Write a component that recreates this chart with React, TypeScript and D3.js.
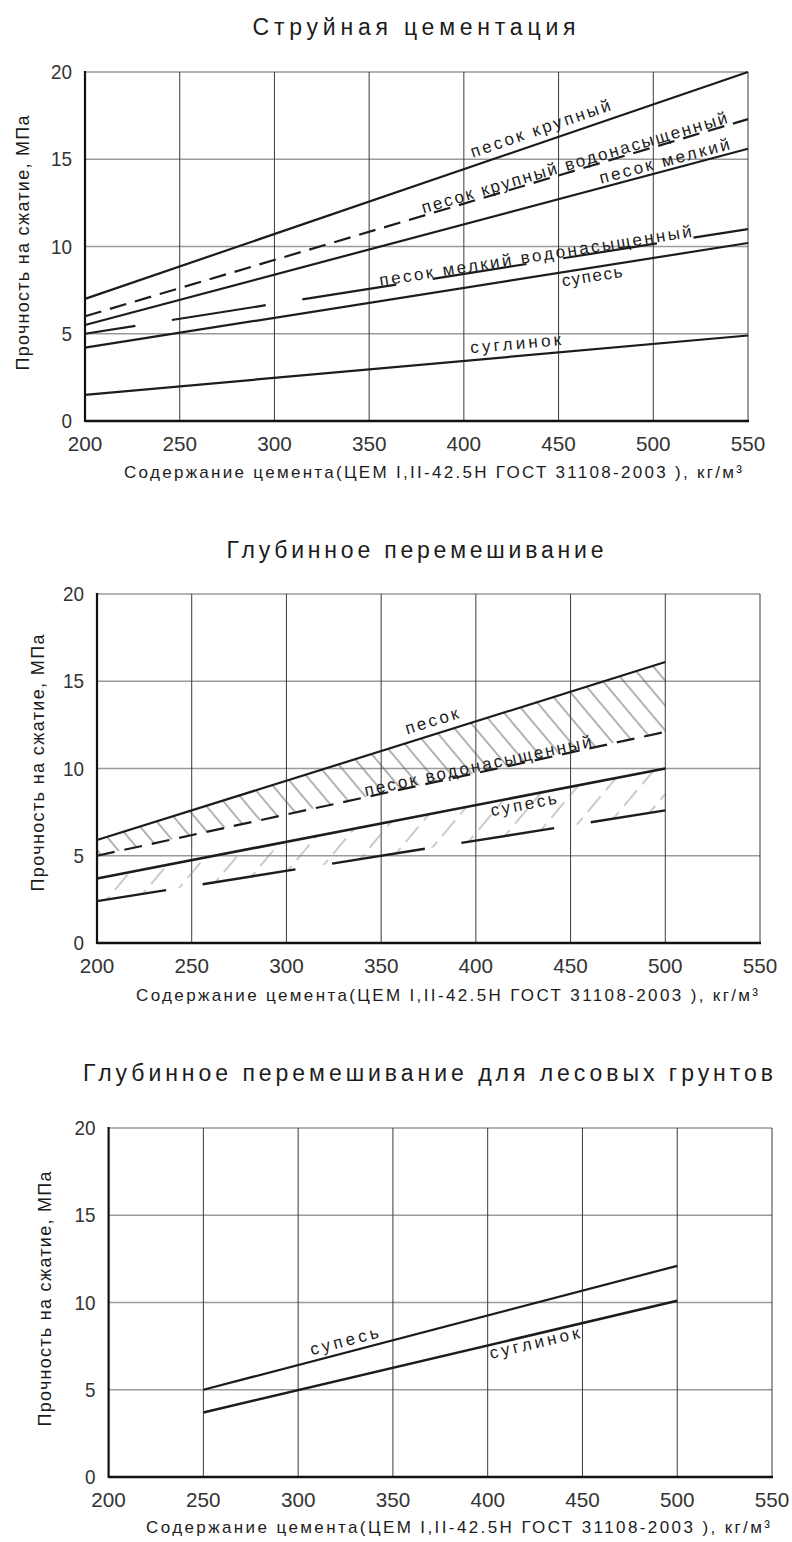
import React from 'react';
import * as d3 from 'd3';

// ---------- shared axis data ----------
const xTicks = [200, 250, 300, 350, 400, 450, 500, 550];
const yTicks = [0, 5, 10, 15, 20];
const xDomain = [200, 550];
const yDomain = [0, 20];
const xAxisTitle = 'Содержание цемента(ЦЕМ I,II-42.5Н ГОСТ 31108-2003 ), кг/м³';
const yAxisTitle = 'Прочность на сжатие, МПа';

// ---------- chart 1: jet grouting ----------
const jetTitle = 'Струйная цементация';
const jetX = [200, 550];
const jetSandCoarse = [7.0, 20.0];
const jetSandCoarseSat = [6.0, 17.3];
const jetSandFine = [5.5, 15.6];
const jetSandFineSat = [5.0, 11.0];
const jetSandyLoam = [4.2, 10.2];
const jetLoam = [1.5, 4.9];

// ---------- chart 2: deep mixing ----------
const deepTitle = 'Глубинное перемешивание';
const deepX = [200, 500];
const deepSand = [5.9, 16.1];
const deepSandSat = [5.0, 12.1];
const deepSandyLoam = [3.7, 10.0];
const deepSandyLoamLow = [2.4, 7.6];

// ---------- chart 3: deep mixing, loess ----------
const loessTitle = 'Глубинное перемешивание для лесовых грунтов';
const loessX = [250, 500];
const loessSandyLoam = [5.0, 12.1];
const loessLoam = [3.7, 10.1];

const FONT = '"Liberation Sans", Arial, sans-serif';
const INK = '#1c1c1c';

type Series = { x: number[]; y: number[]; dash?: string; offset?: number; width?: number };
type Label = { s: number; at: number; d: number; text: string; len: number };
type Hatch = { hi: number; lo: number; pat: string };
type Layout = {
  left: number; right: number; top: number; bottom: number;
  titleX: number; titleY: number; titleLen: number;
  axX: number; axY: number; axLen: number;
  ayX: number; ayY: number; ayLen: number;
};

function Panel({ id, L, title, series, labels, hatches }: {
  id: string; L: Layout; title: string; series: Series[]; labels: Label[]; hatches: Hatch[];
}) {
  const x = d3.scaleLinear().domain(xDomain).range([L.left, L.right]);
  const y = d3.scaleLinear().domain(yDomain).range([L.bottom, L.top]);
  const line = d3.line<[number, number]>().x(d => x(d[0])).y(d => y(d[1]));
  const area = d3.area<{ x: number; hi: number; lo: number }>()
    .x(d => x(d.x)).y0(d => y(d.lo)).y1(d => y(d.hi));

  const pts = (s: Series) => s.x.map((v, i) => [v, s.y[i]] as [number, number]);

  return (
    <g>
      <defs>
        <pattern id={`${id}-back`} patternUnits="userSpaceOnUse" width={16} height={40}
          patternTransform="rotate(-40)">
          <line x1={8} y1={0} x2={8} y2={40} stroke="#555" strokeWidth={0.9} />
        </pattern>
        <pattern id={`${id}-fwd`} patternUnits="userSpaceOnUse" width={24} height={28}
          patternTransform="rotate(40)">
          <line x1={12} y1={0} x2={12} y2={28} stroke="#8a8a8a" strokeWidth={0.9}
            strokeDasharray="20 8" />
        </pattern>
      </defs>

      {/* title */}
      <text x={L.titleX} y={L.titleY} textAnchor="middle" fontFamily={FONT} fontSize={23}
        fill={INK} textLength={L.titleLen} lengthAdjust="spacing">{title}</text>

      {/* horizontal grid */}
      {yTicks.filter(t => t > 0).map(t => (
        <line key={`h${t}`} x1={L.left} x2={L.right} y1={y(t)} y2={y(t)}
          stroke="#9a9a9a" strokeWidth={1.3} />
      ))}
      {/* vertical grid */}
      {xTicks.filter(t => t > 200).map(t => (
        <line key={`v${t}`} x1={x(t)} x2={x(t)} y1={L.top} y2={L.bottom}
          stroke="#3a3a3a" strokeWidth={1} />
      ))}

      {/* hatches */}
      {hatches.map((h, i) => {
        const a = series[h.hi];
        const b = series[h.lo];
        const data = a.x.map((v, k) => ({ x: v, hi: a.y[k], lo: b.y[k] }));
        return <path key={`ht${i}`} d={area(data) || ''} fill={`url(#${id}-${h.pat})`} stroke="none" />;
      })}

      {/* axes */}
      <line x1={L.left} x2={L.left} y1={L.top - 1} y2={L.bottom + 1} stroke="#111" strokeWidth={2.2} />
      <line x1={L.left} x2={L.right + 1} y1={L.bottom} y2={L.bottom} stroke="#111" strokeWidth={2.6} />

      {/* tick labels */}
      {xTicks.map(t => (
        <text key={`xt${t}`} x={x(t)} y={L.bottom + 30} textAnchor="middle" fontFamily={FONT}
          fontSize={21} fill="#333" textLength={String(t).length * 11.5}
          lengthAdjust="spacingAndGlyphs">{t}</text>
      ))}
      {yTicks.map(t => (
        <text key={`yt${t}`} x={L.left - 13} y={y(t) + 7} textAnchor="end" fontFamily={FONT}
          fontSize={21} fill="#333" textLength={String(t).length * 10.5}
          lengthAdjust="spacingAndGlyphs">{t}</text>
      ))}

      {/* series */}
      {series.map((s, i) => (
        <path key={`s${i}`} d={line(pts(s)) || ''} fill="none" stroke={INK}
          strokeWidth={s.width ?? 2.2} strokeDasharray={s.dash} strokeDashoffset={s.offset} />
      ))}

      {/* series labels */}
      {labels.map((lb, i) => {
        const s = series[lb.s];
        const t = (lb.at - s.x[0]) / (s.x[1] - s.x[0]);
        const v = s.y[0] + t * (s.y[1] - s.y[0]);
        const px = x(lb.at);
        const py = y(v);
        const ang = Math.atan2(y(s.y[1]) - y(s.y[0]), x(s.x[1]) - x(s.x[0])) * 180 / Math.PI;
        return (
          <text key={`lb${i}`} transform={`translate(${px},${py}) rotate(${ang})`} x={0} y={lb.d}
            fontFamily={FONT} fontSize={17} fill={INK} textLength={lb.len}
            lengthAdjust="spacing">{lb.text}</text>
        );
      })}

      {/* axis titles */}
      <text x={L.axX} y={L.axY} textAnchor="middle" fontFamily={FONT} fontSize={17} fill={INK}
        textLength={L.axLen} lengthAdjust="spacing">{xAxisTitle}</text>
      <text transform={`translate(${L.ayX},${L.ayY}) rotate(-90)`} x={0} y={0} textAnchor="middle"
        fontFamily={FONT} fontSize={18} fill={INK} textLength={L.ayLen}
        lengthAdjust="spacing">{yAxisTitle}</text>
    </g>
  );
}

const L1: Layout = {
  left: 85, right: 748, top: 72, bottom: 421,
  titleX: 414, titleY: 35, titleLen: 323,
  axX: 433, axY: 478, axLen: 618,
  ayX: 29, ayY: 243, ayLen: 255,
};
const L2: Layout = {
  left: 97, right: 760, top: 594, bottom: 943,
  titleX: 415, titleY: 558, titleLen: 377,
  axX: 447, axY: 1001, axLen: 622,
  ayX: 44, ayY: 763, ayLen: 257,
};
const L3: Layout = {
  left: 108.6, right: 772, top: 1128, bottom: 1477,
  titleX: 428, titleY: 1081, titleLen: 690,
  axX: 458, axY: 1533, axLen: 624,
  ayX: 51, ayY: 1299, ayLen: 255,
};

export default function App() {
  const s1: Series[] = [
    { x: jetX, y: jetSandCoarse },
    { x: jetX, y: jetSandCoarseSat, dash: '17 9' },
    { x: jetX, y: jetSandFine },
    { x: jetX, y: jetSandFineSat, dash: '95 37', offset: 44 },
    { x: jetX, y: jetSandyLoam },
    { x: jetX, y: jetLoam },
  ];
  const l1: Label[] = [
    { s: 0, at: 406, d: -8, text: 'песок крупный', len: 147 },
    { s: 1, at: 379, d: -2, text: 'песок крупный водонасыщенный', len: 318 },
    { s: 2, at: 473, d: -4, text: 'песок мелкий', len: 134 },
    { s: 3, at: 356, d: -1, text: 'песок мелкий водонасыщенный', len: 316 },
    { s: 4, at: 451, d: 14, text: 'супесь', len: 61 },
    { s: 5, at: 404, d: -7, text: 'суглинок', len: 91 },
  ];

  const s2: Series[] = [
    { x: deepX, y: deepSand },
    { x: deepX, y: deepSandSat, dash: '18 10' },
    { x: deepX, y: deepSandyLoam, width: 2.6 },
    { x: deepX, y: deepSandyLoamLow, dash: '94 37', offset: 24, width: 2.4 },
  ];
  const l2: Label[] = [
    { s: 0, at: 365, d: -8, text: 'песок', len: 55 },
    { s: 1, at: 342, d: -1, text: 'песок водонасыщенный', len: 232 },
    { s: 2, at: 407, d: 14, text: 'супесь', len: 67 },
  ];
  const h2: Hatch[] = [
    { hi: 0, lo: 1, pat: 'back' },
    { hi: 2, lo: 3, pat: 'fwd' },
  ];

  const s3: Series[] = [
    { x: loessX, y: loessSandyLoam },
    { x: loessX, y: loessLoam, width: 2.5 },
  ];
  const l3: Label[] = [
    { s: 0, at: 308, d: -6, text: 'супесь', len: 70 },
    { s: 1, at: 400, d: 14, text: 'суглинок', len: 92 },
  ];

  return (
    <svg width={792} height={1542} viewBox="0 0 792 1542"
      style={{ position: 'absolute', left: 0, top: 0, background: '#fff' }}>
      <rect x={0} y={0} width={792} height={1542} fill="#fff" />
      <Panel id="c1" L={L1} title={jetTitle} series={s1} labels={l1} hatches={[]} />
      <Panel id="c2" L={L2} title={deepTitle} series={s2} labels={l2} hatches={h2} />
      <Panel id="c3" L={L3} title={loessTitle} series={s3} labels={l3} hatches={[]} />
    </svg>
  );
}
